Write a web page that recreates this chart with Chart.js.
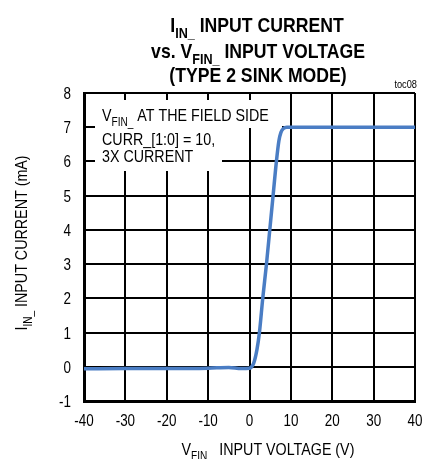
<!DOCTYPE html>
<html>
<head>
<meta charset="utf-8">
<script src="https://cdn.jsdelivr.net/npm/chart.js@4"></script>
<style>
  html,body{margin:0;padding:0;background:#fff}
  #wrap{width:426px;height:459px}
</style>
</head>
<body>
<div id="wrap"><canvas id="c" width="426" height="459"></canvas></div>
<script>
// input voltage (V) vs sink current (mA)
const voltage=[-40,-30,-20,-10,-5,-2,0,1,1.8,2.4,3.2,4.1,4.9,5.7,6.5,7.1,7.6,8.2,9,10,20,30,40];
const current=[-0.06,-0.05,-0.05,-0.04,-0.02,-0.05,-0.04,0.1,0.5,1,2,3,4,5,6,6.6,6.85,6.96,7,7,7,7,7];
const xTicks=[-40,-30,-20,-10,0,10,20,30,40];
const yTicks=[-1,0,1,2,3,4,5,6,7,8];

const FONT="'Liberation Sans',Arial,sans-serif";
const NARROW=0.84; // squeeze Liberation Sans toward a narrow face

// text runs with optional subscript pieces, drawn horizontally squeezed
function richWidth(ctx,parts,size,weight){
  let w=0;
  parts.forEach(p=>{
    ctx.font=`${weight} ${p.sub?Math.round(size*0.72):size}px ${FONT}`;
    w+=ctx.measureText(p.t).width;
  });
  return w*NARROW;
}
function drawRich(ctx,parts,x,y,size,weight,align){
  const w=richWidth(ctx,parts,size,weight);
  const x0=align==='center'?x-w/2:align==='right'?x-w:x;
  ctx.save();
  ctx.translate(x0,y);
  ctx.scale(NARROW,1);
  ctx.textAlign='left';ctx.textBaseline='alphabetic';ctx.fillStyle='#000';
  let cx=0;
  parts.forEach(p=>{
    const s=p.sub?Math.round(size*0.72):size;
    ctx.font=`${weight} ${s}px ${FONT}`;
    ctx.fillText(p.t,cx,p.sub?size*0.3:0);
    cx+=ctx.measureText(p.t).width;
  });
  ctx.restore();
}

const labels={id:'labels',
  beforeDatasetsDraw(chart){
    const ctx=chart.ctx;
    ctx.save();
    // white patch behind the condition note
    ctx.fillStyle='#fff';
    ctx.fillRect(95,100,187,28);
    ctx.fillRect(95,127,127,44);
    drawRich(ctx,[{t:'V'},{t:'FIN_',sub:1},{t:' AT THE FIELD SIDE'}],102,121,17,'normal','left');
    drawRich(ctx,[{t:'CURR_[1:0] = 10,'}],102,145,17,'normal','left');
    drawRich(ctx,[{t:'3X CURRENT'}],102,162,17,'normal','left');
    ctx.restore();
  },
  afterDraw(chart){
    const ctx=chart.ctx;
    const {x,y}=chart.scales;
    ctx.save();
    xTicks.forEach(v=>drawRich(ctx,[{t:String(v)}],x.getPixelForValue(v),426,16,'normal','center'));
    yTicks.forEach(v=>drawRich(ctx,[{t:String(v)}],71,y.getPixelForValue(v)+6,16,'normal','right'));
    drawRich(ctx,[{t:'I'},{t:'IN_',sub:1},{t:' INPUT CURRENT'}],257,32,21,'bold','center');
    drawRich(ctx,[{t:'vs. V'},{t:'FIN_',sub:1},{t:' INPUT VOLTAGE'}],258,58,21,'bold','center');
    drawRich(ctx,[{t:'(TYPE 2 SINK MODE)'}],258,82,21,'bold','center');
    drawRich(ctx,[{t:'toc08'}],417,88,11,'normal','right');
    drawRich(ctx,[{t:'V'},{t:'FIN',sub:1},{t:'   INPUT VOLTAGE (V)'}],268,455,17,'normal','center');
    ctx.translate(27,243);
    ctx.rotate(-Math.PI/2);
    drawRich(ctx,[{t:'I'},{t:'IN_',sub:1},{t:' INPUT CURRENT (mA)'}],0,0,17,'normal','center');
    ctx.restore();
  }
};

new Chart(document.getElementById('c'),{
  type:'line',
  data:{datasets:[{
    data:voltage.map((v,i)=>({x:v,y:current[i]})),
    borderColor:'#4a7dc4',borderWidth:3.5,pointRadius:0,
    cubicInterpolationMode:'monotone',fill:false
  }]},
  options:{
    responsive:false,animation:false,
    layout:{padding:{top:93,right:11,left:0,bottom:0}},
    plugins:{legend:{display:false},tooltip:{enabled:false},title:{display:false}},
    scales:{
      x:{type:'linear',min:-40,max:40,
        afterBuildTicks:s=>{s.ticks=xTicks.map(v=>({value:v}));},
        afterFit:s=>{s.height=58;},
        grid:{color:'#000',lineWidth:2,drawTicks:false},
        border:{color:'#000',width:3},
        ticks:{display:false}
      },
      y:{min:-1,max:8,
        afterBuildTicks:s=>{s.ticks=yTicks.map(v=>({value:v}));},
        afterFit:s=>{s.width=84;},
        grid:{color:'#000',lineWidth:2,drawTicks:false},
        border:{color:'#000',width:3},
        ticks:{display:false}
      }
    }
  },
  plugins:[labels]
});
</script>
</body>
</html>
